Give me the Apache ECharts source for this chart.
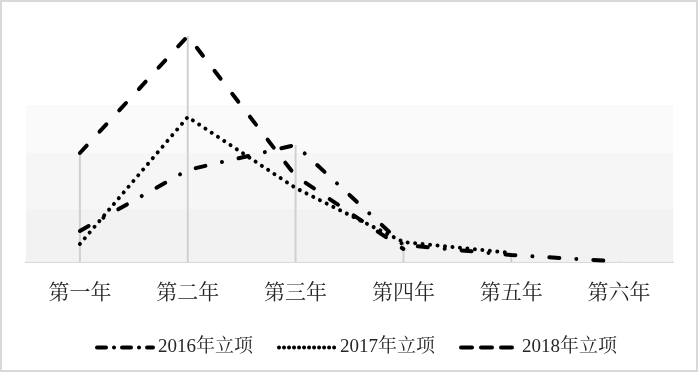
<!DOCTYPE html>
<html>
<head>
<meta charset="utf-8">
<script src="https://cdn.jsdelivr.net/npm/echarts@6/dist/echarts.min.js"></script>
<style>
html,body{margin:0;padding:0;background:#fff;}
#c{width:700px;height:375px;}
</style>
</head>
<body>
<div id="c"></div>
<script>
var categories = ['第一年','第二年','第三年','第四年','第五年','第六年'];
var seriesNames = ['2016年立项','2017年立项','2018年立项'];
var s2016 = [31, 92, 117, 17, 7, 0.5];
var s2017 = [18, 145, 74, 20, 9, null];
var s2018 = [109, 226, 86, 13, null, null];
var bandEdges = [0, 53, 109, 157];

var allSeries = [s2016, s2017, s2018];
var dropMax = categories.map(function(_, i){
  var m = null;
  allSeries.forEach(function(s){ if (s[i] != null && (m == null || s[i] > m)) m = s[i]; });
  return m;
});
var bandColors = ['#f2f2f2','#f6f6f6','#fafafa'];
var bands = [];
for (var i = 0; i < bandEdges.length - 1; i++) {
  bands.push([{yAxis: bandEdges[i], itemStyle:{color: bandColors[i]}}, {yAxis: bandEdges[i+1]}]);
}
var fontFam = "'Liberation Serif', 'Noto Serif CJK SC', 'Noto Sans CJK SC', serif";
var lineTypes = [[10, 17, 0.01, 17], [0.01, 7.5], [10, 19]];
var iconTypes = [[9, 8, 0.01, 8], [0.01, 5], [11, 9]];

var chart = echarts.init(document.getElementById('c'), null, {renderer:'canvas'});
chart.setOption({
  animation: false,
  backgroundColor: '#ffffff',
  graphic: [{
    type: 'rect', shape: {x: 1, y: 1, width: 696, height: 370},
    style: {fill: 'none', stroke: '#d9d9d9', lineWidth: 2}, silent: true, z: 100
  }],
  grid: {left: 26, right: 27, top: 22, bottom: 113},
  legend: {
    data: seriesNames.map(function(n, k){
      return {name: n, lineStyle: {type: iconTypes[k], color: '#000', width: 4, cap: 'round'}};
    }),
    left: 90, top: 333,
    itemWidth: 56, itemHeight: 14, itemGap: 24,
    itemStyle: {color: 'rgba(0,0,0,0)', opacity: 0, borderWidth: 0},
    textStyle: {fontFamily: fontFam, fontSize: 19, color: '#262626'}
  },
  xAxis: {
    type: 'category', data: categories, boundaryGap: true,
    axisLine: {lineStyle: {color: '#d9d9d9', width: 2}},
    axisTick: {show: false},
    axisLabel: {fontFamily: fontFam, fontSize: 21, color: '#262626', margin: 21},
    splitLine: {show: false}
  },
  yAxis: {
    type: 'value', min: 0, max: 240, show: false,
    splitLine: {show: false}
  },
  series: [
    {
      name: 'bands', type: 'bar', data: categories.map(function(){return null;}),
      silent: true, z: 0,
      markArea: {silent: true, data: bands}
    },
    {
      name: 'drop', type: 'bar', data: dropMax, barWidth: 2, barGap: '-100%',
      itemStyle: {color: '#d0d0d0'}, silent: true, z: 1
    },
    {
      name: seriesNames[0], type: 'line', data: s2016, symbol: 'none', z: 3,
      itemStyle: {color: '#000'},
      lineStyle: {color: '#000', width: 4, type: lineTypes[0], cap: 'round'}
    },
    {
      name: seriesNames[1], type: 'line', data: s2017, symbol: 'none', z: 3,
      itemStyle: {color: '#000'},
      lineStyle: {color: '#000', width: 4, type: lineTypes[1], cap: 'round'}
    },
    {
      name: seriesNames[2], type: 'line', data: s2018, symbol: 'none', z: 3,
      itemStyle: {color: '#000'},
      lineStyle: {color: '#000', width: 4, type: lineTypes[2], cap: 'round'}
    }
  ]
});
</script>
</body>
</html>
